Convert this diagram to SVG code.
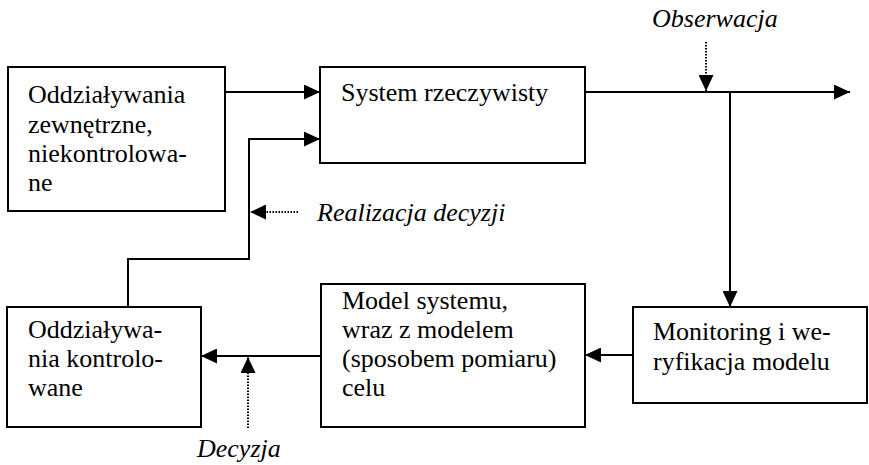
<svg xmlns="http://www.w3.org/2000/svg" width="869" height="465" viewBox="0 0 869 465">
<defs>
<marker id="ah" markerUnits="userSpaceOnUse" markerWidth="16" markerHeight="15" refX="16" refY="7.5" orient="auto">
<path d="M0,0 L16,7.5 L0,15 z" fill="#000"/>
</marker>
<style>
.box{fill:#fff;stroke:#000;stroke-width:2}
text{font-family:'Liberation Serif','Times New Roman','DejaVu Serif',serif;font-size:26px;fill:#000}
.i{font-style:italic}
.c{fill:none;stroke:#000;stroke-width:2}
.d{fill:none;stroke:#000;stroke-width:2;stroke-dasharray:1.5 1.5}
</style>
</defs>
<rect width="869" height="465" fill="#fff"/>
<g id="connectors">
<line class="c" x1="225" y1="92" x2="320" y2="92" marker-end="url(#ah)"/>
<polyline class="c" points="128,307 128,259 249,259 249,139 320,139" marker-end="url(#ah)"/>
<line class="c" x1="585" y1="92" x2="850" y2="92" marker-end="url(#ah)"/>
<line class="c" x1="730" y1="92" x2="730" y2="307" marker-end="url(#ah)"/>
<line class="c" x1="633" y1="355" x2="585" y2="355" marker-end="url(#ah)"/>
<line class="c" x1="321" y1="356" x2="201" y2="356" marker-end="url(#ah)"/>
<line class="d" x1="706" y1="42" x2="706" y2="91" marker-end="url(#ah)"/>
<line class="d" x1="298" y1="212" x2="250" y2="212" marker-end="url(#ah)"/>
<line class="d" x1="248" y1="428" x2="248" y2="357" marker-end="url(#ah)"/>
</g>
<g id="n1" font-family="Liberation Serif, serif">
<rect class="box" x="8" y="67" width="217" height="144"/>
<text x="28" y="103">Oddziaływania</text>
<text x="28" y="133">zewnętrzne,</text>
<text x="28" y="162">niekontrolowa-</text>
<text x="28" y="191">ne</text>
</g>
<g id="n2">
<rect class="box" x="320" y="67" width="265" height="96"/>
<text x="341" y="101">System rzeczywisty</text>
</g>
<g id="n3">
<rect class="box" x="633" y="307" width="234" height="96"/>
<text x="653" y="340">Monitoring i we-</text>
<text x="653" y="370">ryfikacja modelu</text>
</g>
<g id="n4">
<rect class="box" x="321" y="284" width="264" height="143"/>
<text x="342" y="309">Model systemu,</text>
<text x="342" y="338">wraz z modelem</text>
<text x="342" y="367">(sposobem pomiaru)</text>
<text x="342" y="396">celu</text>
</g>
<g id="n5">
<rect class="box" x="7" y="307" width="194" height="120"/>
<text x="28" y="338">Oddziaływa-</text>
<text x="28" y="367">nia kontrolo-</text>
<text x="28" y="396">wane</text>
</g>
<g id="labels">
<text class="i" x="652" y="27">Obserwacja</text>
<text class="i" x="317" y="221">Realizacja decyzji</text>
<text class="i" x="197" y="457">Decyzja</text>
</g>
</svg>
